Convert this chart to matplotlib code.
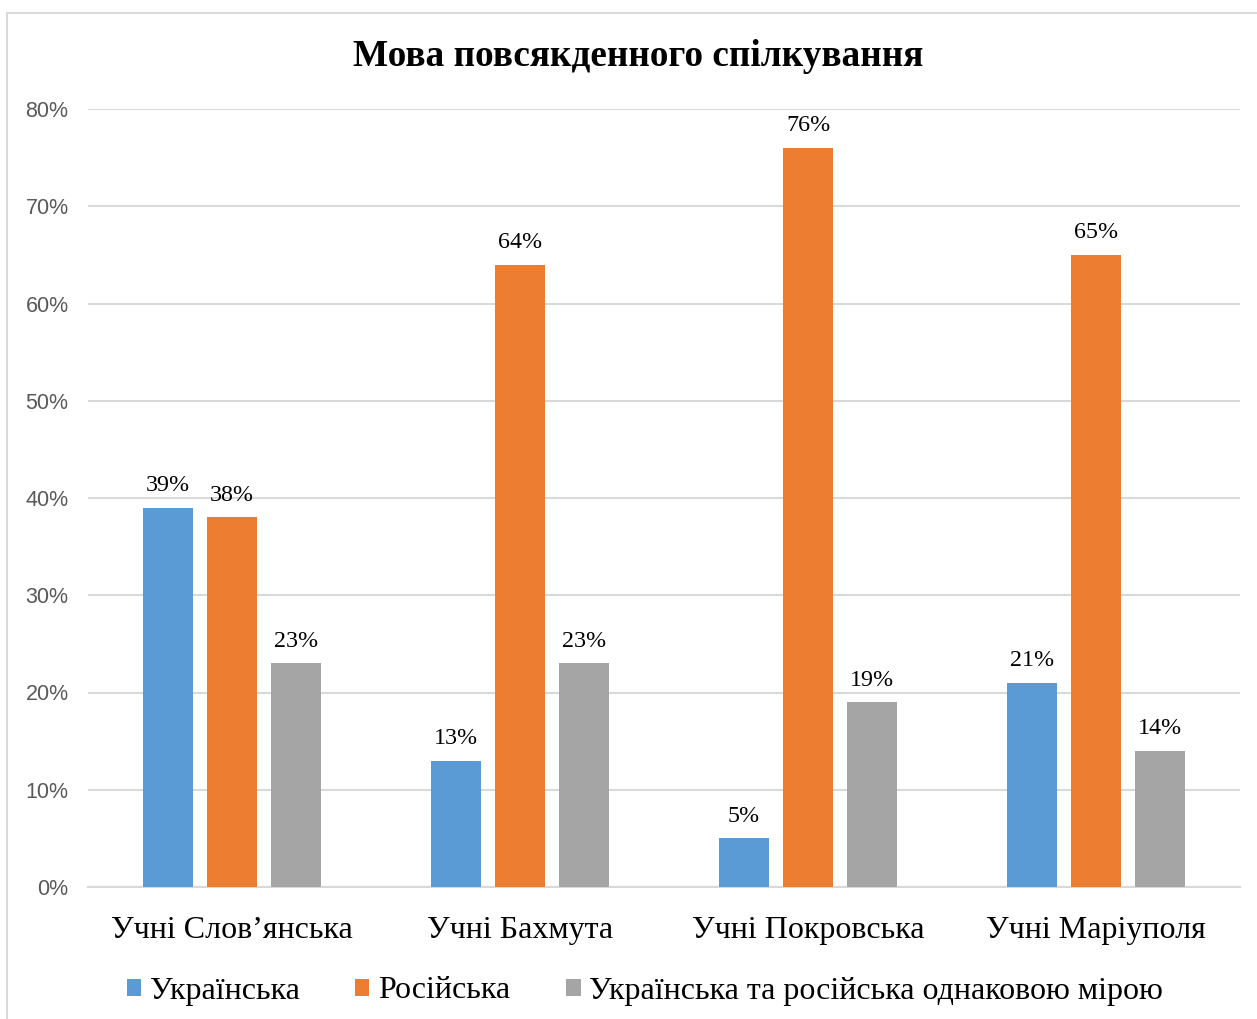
import matplotlib
matplotlib.use("Agg")
import matplotlib.pyplot as plt
from matplotlib.patches import Rectangle
import numpy as np

# --- дані ---
categories = ["Учні Слов’янська", "Учні Бахмута", "Учні Покровська", "Учні Маріуполя"]
series_names = ["Українська", "Російська", "Українська та російська однаковою мірою"]
ukr = [0.39, 0.13, 0.05, 0.21]
rus = [0.38, 0.64, 0.76, 0.65]
both = [0.23, 0.23, 0.19, 0.14]
y_ticks = [0, 0.1, 0.2, 0.3, 0.4, 0.5, 0.6, 0.7, 0.8]

colors = ["#5B9BD5", "#ED7D31", "#A5A5A5"]
SERIF = "Liberation Serif"
SANS = "Liberation Sans"

W, H = 1257, 1019
fig = plt.figure(figsize=(W / 100, H / 100), dpi=100)

# рамка діаграми
fig.patches.append(Rectangle((7 / W, -0.01), 1.02, 1 - 13 / H + 0.01,
                             transform=fig.transFigure, fill=False,
                             edgecolor="#D9D9D9", linewidth=1.5))

ax = fig.add_axes([88 / W, 1 - 887 / H, (1240 - 88) / W, (887 - 109) / H])

x = np.arange(len(categories))
width = 0.174
step = 0.222
for i, (vals, name) in enumerate(zip([ukr, rus, both], series_names)):
    pos = x + (i - 1) * step
    bars = ax.bar(pos, vals, width, color=colors[i], label=name, zorder=3)
    for b, v in zip(bars, vals):
        ax.text(b.get_x() + b.get_width() / 2, v + 0.012, f"{round(v * 100)}%",
                ha="center", va="bottom", fontsize=17.3, family=SERIF, color="black")

ax.set_xlim(-0.5, len(categories) - 0.5)
ax.set_ylim(0, 0.8)
ax.set_yticks(y_ticks)
ax.set_yticklabels([f"{round(t * 100)}%" for t in y_ticks], family=SANS,
                   fontsize=15.5, color="#595959")
ax.set_xticks(x)
ax.set_xticklabels(categories, family=SERIF, fontsize=23, color="black")
ax.tick_params(axis="both", length=0)
ax.tick_params(axis="y", pad=14)
ax.tick_params(axis="x", pad=21)

ax.grid(axis="y", color="#D9D9D9", linewidth=1.5, zorder=0)
for s in ["top", "right", "left"]:
    ax.spines[s].set_visible(False)
ax.spines["bottom"].set_color("#D9D9D9")
ax.spines["bottom"].set_linewidth(1.5)

fig.text(638 / W, 1 - 57 / H, "Мова повсякденного спілкування", ha="center", va="center",
         fontsize=26.8, fontweight="bold", family=SERIF)

ax.legend(loc="center", bbox_to_anchor=(0.5 - 19 / 1152, -(991 - 887) / (887 - 109)), ncol=3,
          frameon=False, prop={"family": SERIF, "size": 23},
          handlelength=0.44, handleheight=0.44, handletextpad=0.28, columnspacing=1.75)

fig.savefig("out.png", dpi=100)
